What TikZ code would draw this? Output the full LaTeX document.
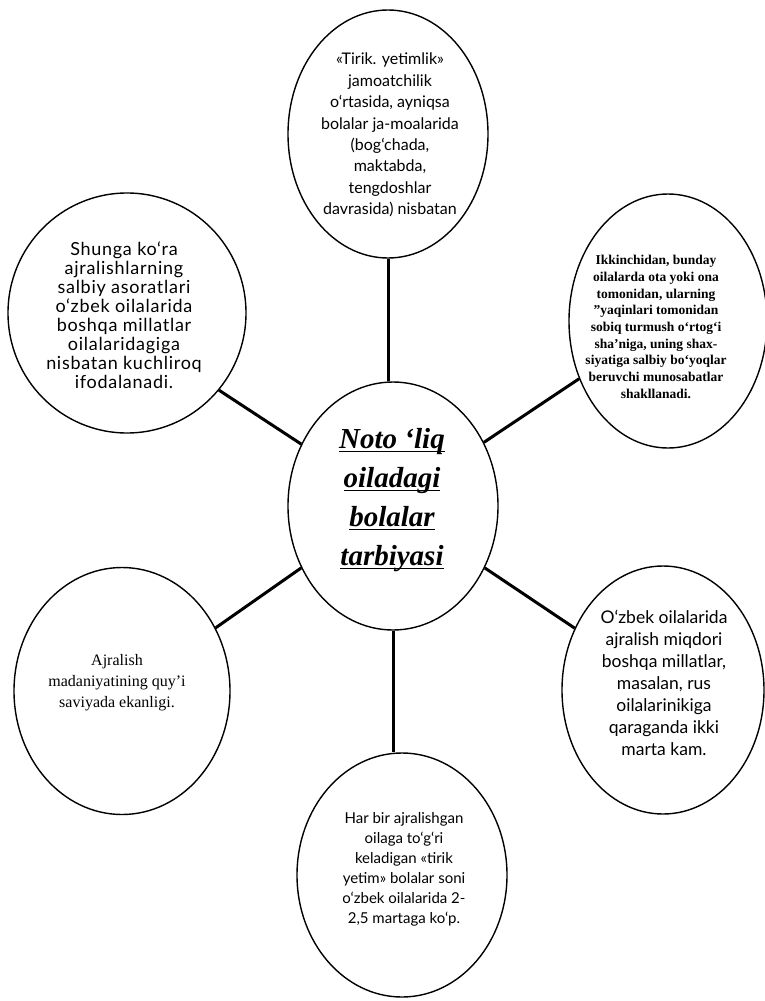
\documentclass[tikz,border=0pt]{standalone}
\usepackage{fontspec}
\setmainfont{Liberation Serif}
\newfontfamily\hsans{Lato}
\newfontfamily\hsanswide[LetterSpace=4]{Lato}
\usetikzlibrary{shapes.geometric}
\newcommand\myul[1]{\setbox0\hbox{#1}\rlap{\rule[-4pt]{\wd0}{1.3pt}}\box0}
\begin{document}
\begin{tikzpicture}[x=1pt,y=-1pt,
  bubble/.style={draw, ellipse, line width=1.4pt, inner sep=0pt},
  spoke/.style={line width=3pt},
  txt/.style={align=center, inner sep=0pt}]
\useasboundingbox (0,0) rectangle (765,1001);
% bubbles
\node[bubble, minimum width=200pt, minimum height=248pt] (top) at (388,134) {};
\node[bubble, minimum width=210pt, minimum height=248pt] (cen) at (393,506) {};
\node[bubble, minimum width=238pt, minimum height=240pt] (shu) at (127,313) {};
\node[bubble, minimum width=198pt, minimum height=254pt] (ikk) at (668,321) {};
\node[bubble, minimum width=216pt, minimum height=247pt] (ajr) at (122,691) {};
\node[bubble, minimum width=202pt, minimum height=248pt] (ozb) at (663,690) {};
\node[bubble, minimum width=210pt, minimum height=244pt] (har) at (402,875) {};
% texts
\node[txt, font=\hsans\fontsize{16}{21.4}\selectfont] (ttop) at (390,135)
  {«Tirik. yetimlik»\\jamoatchilik\\o‘rtasida, ayniqsa\\bolalar ja-moalarida\\(bog‘chada,\\maktabda,\\tengdoshlar\\davrasida) nisbatan};
\node[txt, font=\bfseries\itshape\fontsize{29}{39}\selectfont] (tcen) at (392,500)
  {\myul{Noto ‘liq}\\\myul{oiladagi}\\\myul{bolalar}\\\myul{tarbiyasi}};
\node[txt, font=\hsanswide\fontsize{18}{19}\selectfont] (tshu) at (124,315)
  {Shunga ko‘ra\\ajralishlarning\\salbiy asoratlari\\o‘zbek oilalarida\\boshqa millatlar\\oilalaridagiga\\nisbatan kuchliroq\\ifodalanadi.};
\node[txt, font=\bfseries\fontsize{13.5}{16.7}\selectfont] (tikk) at (656,327)
  {Ikkinchidan, bunday\\oilalarda ota yoki ona\\tomonidan, ularning\\”yaqinlari tomonidan\\sobiq turmush o‘rtog‘i\\sha’niga, uning shax-\\siyatiga salbiy bo‘yoqlar\\beruvchi munosabatlar\\shakllanadi.};
\node[txt, font=\fontsize{16}{21}\selectfont] (tajr) at (117,683)
  {Ajralish\\madaniyatining quy’i\\saviyada ekanligi.};
\node[txt, font=\hsans\fontsize{17.5}{22}\selectfont] (tozb) at (664,683)
  {O‘zbek oilalarida\\ajralish miqdori\\boshqa millatlar,\\masalan, rus\\oilalarinikiga\\qaraganda ikki\\marta kam.};
\node[txt, font=\hsans\fontsize{15}{20}\selectfont] (thar) at (404,869)
  {Har bir ajralishgan\\oilaga to‘g‘ri\\keladigan «tirik\\yetim» bolalar soni\\o‘zbek oilalarida 2-\\2,5 martaga ko‘p.};
% spokes
\draw[spoke] (top.south) -- (top.south |- cen.north);
\draw[spoke] (shu.320) -- (cen.146);
\draw[spoke] (ikk.213) -- (cen.35);
\draw[spoke] (ajr.34) -- (cen.214);
\draw[spoke] (ozb.145) -- (cen.326);
\draw[spoke] (cen.south) -- (cen.south |- har.north);
\end{tikzpicture}
\end{document}
